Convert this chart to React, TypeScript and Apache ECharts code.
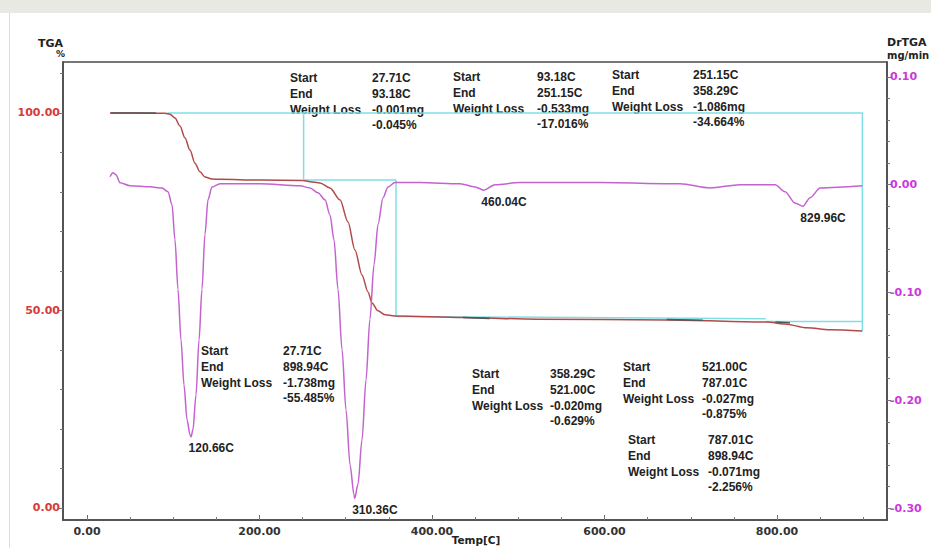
import React, { useEffect, useRef } from "react";
import * as echarts from "echarts";

// ---------- data ----------
const tgaTemp = [26.7, 60, 90.4, 96.2, 102, 107.8, 113.6, 119.4, 125.2, 131, 136.8, 144.9, 154, 200.6, 250.4, 258.6, 270.1, 281.7, 293.3, 302.6, 310.7, 318.8, 325.8, 330.4, 337.4, 345.5, 359.4, 436, 521.7, 672.5, 788.4, 809, 834.8, 861.4, 898.6];
const tgaWeight = [100.0, 100.0, 99.9, 99.7, 98.7, 96.7, 93.7, 90.6, 87.3, 85.1, 83.8, 83.3, 83.2, 83.0, 82.9, 82.6, 82.3, 81.0, 78.0, 72.4, 65.3, 59.0, 54.7, 51.9, 49.9, 48.9, 48.6, 48.2, 47.8, 47.6, 47.1, 46.6, 45.6, 45.1, 44.8];

const dtgTemp = [26.7, 30.1, 33.6, 38.3, 49.9, 73.0, 87.0, 93.9, 98.6, 102.0, 105.5, 109.0, 112.5, 116.0, 119.4, 120.66, 122.9, 126.4, 129.9, 133.3, 136.8, 140.3, 144.9, 154.2, 200.6, 247.0, 258.6, 267.8, 276.0, 281.7, 286.4, 291.0, 295.7, 300.3, 305.0, 309.6, 310.36, 314.2, 318.8, 323.5, 328.0, 332.8, 337.4, 343.2, 349.0, 357.0, 386.0, 432.5, 449.9, 460.04, 473.0, 502.0, 594.8, 687.5, 722.3, 757.0, 797.7, 809.3, 820.9, 829.96, 838.3, 850.0, 898.6];
const dtgRate = [0.0074, 0.0111, 0.0093, 0.0019, -0.0009, -0.0019, -0.003, -0.0065, -0.0186, -0.051, -0.097, -0.144, -0.186, -0.218, -0.232, -0.234, -0.227, -0.195, -0.144, -0.097, -0.046, -0.014, -0.002, 0.001, 0.001, -0.001, -0.003, -0.0074, -0.014, -0.028, -0.051, -0.097, -0.153, -0.209, -0.26, -0.288, -0.291, -0.278, -0.237, -0.181, -0.125, -0.074, -0.037, -0.012, -0.002, 0.002, 0.002, 0.001, -0.002, -0.005, 0.0, 0.002, 0.002, 0.001, -0.003, 0.0, 0.0, -0.0065, -0.017, -0.02, -0.012, -0.003, -0.001];

// step marker lines (temperature, weight %), null = break
const stepLineTemp = [93.18, 898.94, 898.94, null, 251.15, 251.15, 358.29, 358.29, 787.01, null, 787.01, 898.94];
const stepLineWeight = [100, 100, 44.7, null, 100, 83.0, 83.0, 48.5, 47.9, null, 47.2, 47.2];
const markerTemp = [27.71, 80, null, 436, 467, null, 672, 714, null, 798, 815];
const markerWeight = [100, 100, null, 48.2, 48.0, null, 47.7, 47.5, null, 47.1, 46.9];

const peakTemps = [120.66, 310.36, 460.04, 829.96];
const peakRates = [-0.234, -0.291, -0.005, -0.02];
const peakLabels = ["120.66C", "310.36C", "460.04C", "829.96C"];

const tableStart = ["27.71C", "93.18C", "251.15C", "27.71C", "358.29C", "521.00C", "787.01C"];
const tableEnd = ["93.18C", "251.15C", "358.29C", "898.94C", "521.00C", "787.01C", "898.94C"];
const tableLossMg = ["-0.001mg", "-0.533mg", "-1.086mg", "-1.738mg", "-0.020mg", "-0.027mg", "-0.071mg"];
const tableLossPct = ["-0.045%", "-17.016%", "-34.664%", "-55.485%", "-0.629%", "-0.875%", "-2.256%"];

const xAxisTitle = "Temp[C]";
const xMajorTicks = [0, 200, 400, 600, 800];
const xMinorTicks = [0, 50, 100, 150, 200, 250, 300, 350, 400, 450, 500, 550, 600, 650, 700, 750, 800, 850, 900];
const leftMajorTicks = [0, 50, 100];
const leftMinorTicks = [0, 10, 20, 30, 40, 50, 60, 70, 80, 90, 100, 110];
const rightMajorTicks = [0.1, 0, -0.1, -0.2, -0.3];
const rightMinorTicks = [0.1, 0.08, 0.06, 0.04, 0.02, 0, -0.02, -0.04, -0.06, -0.08, -0.1, -0.12, -0.14, -0.16, -0.18, -0.2, -0.22, -0.24, -0.26, -0.28, -0.3];

// ---------- layout ----------
const X_MIN = -27.8;
const X_MAX = 927.5;
const L_MIN = -3.04;
const L_MAX = 112.9;
const R_MIN = -0.3111;
const R_MAX = 0.1139;

// [labelX, firstRowY, valueX]
const tableAnchors = [
  [290, 78, 372],
  [453, 77, 537],
  [612, 75, 693],
  [201, 351, 283],
  [472, 374, 550],
  [623, 367, 702],
  [628, 440, 708],
];
const ROW_GAP = 15.8;

const pairs = (xs: (number | null)[], ys: (number | null)[]) =>
  xs.map((x, i) => (x === null || ys[i] === null ? [null, null] : [x, ys[i]]));

export default function App() {
  const ref = useRef<HTMLDivElement>(null);

  useEffect(() => {
    if (!ref.current) return;
    const chart = echarts.init(ref.current, null, { renderer: "svg" });

    const annFont = 'bold 12px "Liberation Sans", Arial, sans-serif';
    const textColor = "#222222";
    const graphics: any[] = [
      { type: "rect", shape: { x: 0, y: 0, width: 931, height: 13 }, style: { fill: "#e9e9e3" }, silent: true },
      { type: "line", shape: { x1: 9.5, y1: 13, x2: 9.5, y2: 548 }, style: { stroke: "#dcdcd6", lineWidth: 1 }, silent: true },
      { type: "text", x: 38, y: 43, style: { text: "TGA", font: 'bold 11px "DejaVu Sans", sans-serif', fill: textColor, textVerticalAlign: "middle" } },
      { type: "text", x: 56, y: 54, style: { text: "%", font: 'bold 9px "DejaVu Sans", sans-serif', fill: textColor, textVerticalAlign: "middle" } },
      { type: "text", x: 887, y: 42, style: { text: "DrTGA", font: 'bold 11px "DejaVu Sans", sans-serif', fill: textColor, textVerticalAlign: "middle" } },
      { type: "text", x: 887, y: 55, style: { text: "mg/min", font: 'bold 10px "DejaVu Sans", sans-serif', fill: textColor, textVerticalAlign: "middle" } },
      { type: "text", x: 476, y: 540, style: { text: xAxisTitle, font: 'bold 10.5px "DejaVu Sans", sans-serif', fill: textColor, textAlign: "center", textVerticalAlign: "middle" } },
    ];
    tableAnchors.forEach((a, i) => {
      const [lx, y0, vx] = a;
      const labels = ["Start", "End", "Weight Loss", ""];
      const values = [tableStart[i], tableEnd[i], tableLossMg[i], tableLossPct[i]];
      for (let r = 0; r < 4; r++) {
        const y = y0 + r * ROW_GAP;
        if (labels[r]) {
          graphics.push({ type: "text", x: lx, y, style: { text: labels[r], font: annFont, fill: textColor, textVerticalAlign: "middle" } });
        }
        graphics.push({ type: "text", x: vx, y, style: { text: values[r], font: annFont, fill: textColor, textVerticalAlign: "middle" } });
      }
    });

    const axisLineColor = "#4a4a4a";
    const labelFont = { fontFamily: "DejaVu Sans", fontWeight: "bold", fontSize: 11 };

    chart.setOption({
      animation: false,
      backgroundColor: "#ffffff",
      grid: {
        left: 63, top: 62, right: 44, bottom: 28, show: true, containLabel: false,
        outerBoundsMode: "none",
        borderColor: axisLineColor, borderWidth: 1.5, backgroundColor: "transparent",
      },
      xAxis: [
        {
          type: "value", min: X_MIN, max: X_MAX, position: "bottom",
          axisLine: { show: true, onZero: false, lineStyle: { color: axisLineColor, width: 1.5 } },
          axisTick: { show: true, inside: true, length: 5, customValues: xMajorTicks, lineStyle: { color: "#666" } },
          axisLabel: { show: true, customValues: xMajorTicks, formatter: (v: number) => v.toFixed(2), color: "#333", margin: 6, ...labelFont },
          splitLine: { show: false },
        },
        {
          type: "value", min: X_MIN, max: X_MAX, position: "bottom",
          axisLine: { show: false, onZero: false },
          axisTick: { show: true, inside: true, length: 3, customValues: xMinorTicks, lineStyle: { color: "#777" } },
          axisLabel: { show: false },
          splitLine: { show: false },
        },
      ],
      yAxis: [
        {
          type: "value", min: L_MIN, max: L_MAX, position: "left",
          axisLine: { show: true, onZero: false, lineStyle: { color: axisLineColor, width: 1.5 } },
          axisTick: { show: true, inside: false, length: 4, customValues: leftMajorTicks, lineStyle: { color: "#666" } },
          axisLabel: { show: true, customValues: leftMajorTicks, formatter: (v: number) => v.toFixed(2), color: "#d83a3a", margin: 3, ...labelFont },
          splitLine: { show: false },
        },
        {
          type: "value", min: L_MIN, max: L_MAX, position: "left",
          axisLine: { show: false, onZero: false },
          axisTick: { show: true, inside: false, length: 3, customValues: leftMinorTicks, lineStyle: { color: "#777" } },
          axisLabel: { show: false },
          splitLine: { show: false },
        },
        {
          type: "value", min: R_MIN, max: R_MAX, position: "right",
          axisLine: { show: true, onZero: false, lineStyle: { color: axisLineColor, width: 1.5 } },
          axisTick: { show: true, inside: false, length: 4, customValues: rightMajorTicks, lineStyle: { color: "#666" } },
          axisLabel: { show: true, customValues: rightMajorTicks, formatter: (v: number) => (Math.abs(v) < 1e-9 ? "0.00" : v.toFixed(2)), color: "#cc38dc", margin: 3, ...labelFont },
          splitLine: { show: false },
        },
        {
          type: "value", min: R_MIN, max: R_MAX, position: "right",
          axisLine: { show: false, onZero: false },
          axisTick: { show: true, inside: false, length: 3, customValues: rightMinorTicks, lineStyle: { color: "#777" } },
          axisLabel: { show: false },
          splitLine: { show: false },
        },
      ],
      series: [
        {
          name: "Step lines", type: "line", xAxisIndex: 0, yAxisIndex: 0, z: 2,
          data: pairs(stepLineTemp, stepLineWeight), connectNulls: false, showSymbol: false, symbol: "none",
          lineStyle: { color: "#7fdfe6", width: 1.5 },
        },
        {
          name: "TGA", type: "line", xAxisIndex: 0, yAxisIndex: 0, z: 3,
          data: tgaTemp.map((t, i) => [t, tgaWeight[i]]), showSymbol: false, symbol: "none",
          smooth: 0.3, smoothMonotone: "x",
          lineStyle: { color: "#b04a4a", width: 1.5 },
        },
        {
          name: "Markers", type: "line", xAxisIndex: 0, yAxisIndex: 0, z: 4,
          data: pairs(markerTemp, markerWeight), connectNulls: false, showSymbol: false, symbol: "none",
          lineStyle: { color: "#555555", width: 1.5 },
        },
        {
          name: "DrTGA", type: "line", xAxisIndex: 0, yAxisIndex: 2, z: 3,
          data: dtgTemp.map((t, i) => [t, dtgRate[i]]), showSymbol: false, symbol: "none",
          smooth: 0.3, smoothMonotone: "x",
          lineStyle: { color: "#c462d0", width: 1.5 },
          markPoint: {
            symbol: "circle", symbolSize: 1, itemStyle: { color: "rgba(0,0,0,0)" },
            label: {
              show: true, position: [-2, 6], formatter: "{b}", color: "#222",
              fontFamily: "Liberation Sans", fontWeight: "bold", fontSize: 12,
            },
            data: peakTemps.map((t, i) => ({ coord: [t, peakRates[i]], name: peakLabels[i] })),
          },
        },
      ],
      graphic: graphics,
    });

    return () => chart.dispose();
  }, []);

  return <div ref={ref} style={{ position: "fixed", left: 0, top: 0, width: 931, height: 548 }} />;
}
